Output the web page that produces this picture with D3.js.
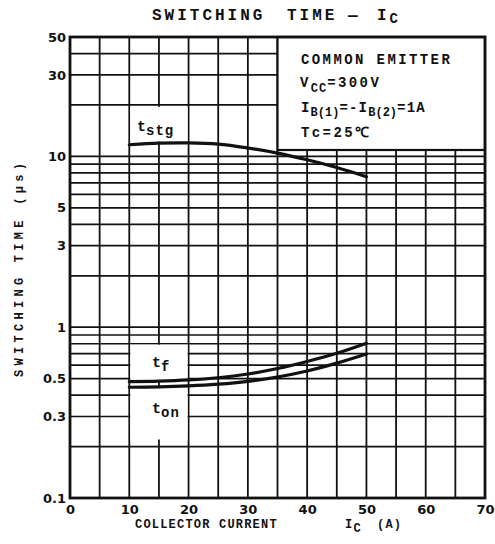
<!DOCTYPE html>
<html>
<head>
<meta charset="utf-8">
<script src="https://cdn.jsdelivr.net/npm/d3@7"></script>
<style>
html,body{margin:0;padding:0;background:#fff;}
svg{display:block;}
.mono{font-family:"Liberation Mono","Courier New",monospace;font-weight:bold;fill:#111;}
.tick{font-family:"DejaVu Sans",sans-serif;font-size:13px;fill:#111;}
</style>
</head>
<body>
<svg id="chart" width="495" height="544"></svg>
<script>
// ---- data ----
const collectorCurrent = [10, 15, 20, 25, 30, 35, 40, 45, 50];
const tStg = [11.7, 11.95, 12.0, 11.8, 11.2, 10.45, 9.55, 8.6, 7.6];
const tF   = [0.480, 0.483, 0.491, 0.506, 0.532, 0.573, 0.630, 0.703, 0.805];
const tOn  = [0.445, 0.447, 0.453, 0.464, 0.482, 0.511, 0.554, 0.616, 0.697];
const xTickValues = [0, 10, 20, 30, 40, 50, 60, 70];
const xGridValues = [5, 10, 15, 20, 25, 30, 35, 40, 45, 50, 55, 60, 65];
const yTickValues = [50, 30, 10, 5, 3, 1, 0.5, 0.3, 0.1];
const yTickLabels = ["50", "30", "10", "5", "3", "1", "0.5", "0.3", "0.1"];
const yGridValues = [0.2,0.3,0.4,0.5,0.6,0.7,0.8,0.9,1,2,3,4,5,6,7,8,9,10,20,30,40];

const svg = d3.select("#chart");
const x = d3.scaleLinear().domain([0, 70]).range([70, 485]);
const y = d3.scaleLog().domain([0.1, 50]).range([498, 37]);

const ink = "#111";

// grid
const grid = svg.append("g");
grid.selectAll("line.v").data(xGridValues).join("line")
  .attr("x1", d => x(d)).attr("x2", d => x(d))
  .attr("y1", y(50)).attr("y2", y(0.1))
  .attr("stroke", ink).attr("stroke-width", 1.8);
grid.selectAll("line.h").data(yGridValues).join("line")
  .attr("x1", x(0)).attr("x2", x(70))
  .attr("y1", d => y(d)).attr("y2", d => y(d))
  .attr("stroke", ink).attr("stroke-width", 1.7);

// white label boxes hiding the grid
function whiteBox(x0, x1, v0, v1) {
  svg.append("rect")
    .attr("x", x(x0) + 1).attr("width", x(x1) - x(x0) - 2)
    .attr("y", y(v0)).attr("height", y(v1) - y(v0))
    .attr("fill", "#fff");
}
whiteBox(10, 20, 19.5, 12.2);
whiteBox(10, 20, 0.79, 0.49);
whiteBox(10, 20, 0.44, 0.22);

// condition box
svg.append("rect")
  .attr("x", x(35)).attr("y", y(50))
  .attr("width", x(70) - x(35)).attr("height", y(10.9) - y(50))
  .attr("fill", "#fff").attr("stroke", ink).attr("stroke-width", 2.2);

// curves
const line = d3.line().curve(d3.curveCatmullRom.alpha(0.5));
[tStg, tF, tOn].forEach(series => {
  svg.append("path")
    .attr("d", line(collectorCurrent.map((c, i) => [x(c), y(series[i])])))
    .attr("fill", "none").attr("stroke", ink).attr("stroke-width", 3.2)
    .attr("stroke-linecap", "round");
});

// frame
svg.append("rect")
  .attr("x", x(0)).attr("y", y(50))
  .attr("width", x(70) - x(0)).attr("height", y(0.1) - y(50))
  .attr("fill", "none").attr("stroke", ink).attr("stroke-width", 2.8);

// axes (labels only; grid serves as tick lines)
const xAxis = d3.axisBottom(x).tickValues(xTickValues).tickSize(0).tickPadding(7).tickFormat(d3.format("d"));
const gx = svg.append("g").attr("transform", `translate(0,${y(0.1)})`).call(xAxis);
gx.select(".domain").remove();
gx.selectAll("text").attr("class", "tick").attr("font-weight", "bold").attr("fill", ink).attr("dy", "0.71em");

const yAxis = d3.axisLeft(y).tickValues(yTickValues).tickSize(0).tickPadding(4)
  .tickFormat((d, i) => yTickLabels[i]);
const gy = svg.append("g").attr("transform", `translate(${x(0)},0)`).call(yAxis);
gy.select(".domain").remove();
gy.selectAll("text").attr("class", "tick").attr("font-weight", "bold").attr("fill", ink);

// title
const title = svg.append("text").attr("class", "mono").attr("y", 20).attr("font-size", 16).attr("letter-spacing", 3);
title.append("tspan").attr("x", 152).text("SWITCHING");
title.append("tspan").attr("x", 287).text("TIME");
title.append("tspan").attr("x", 348).text("\u2014");
title.append("tspan").attr("x", 377).text("I");
title.append("tspan").attr("font-size", 14).attr("dy", 3).attr("letter-spacing", 0).text("C");

// x label
const xl = svg.append("text").attr("class", "mono").attr("y", 528).attr("font-size", 12).attr("letter-spacing", 1.2);
xl.append("tspan").attr("x", 135).text("COLLECTOR CURRENT");
xl.append("tspan").attr("x", 345).text("I");
xl.append("tspan").attr("font-size", 12).attr("dy", 4).text("C");
xl.append("tspan").attr("x", 377).attr("dy", -4).text("(A)");

// y label
svg.append("text").attr("class", "mono")
  .attr("transform", "translate(23,270) rotate(-90)")
  .attr("text-anchor", "middle").attr("font-size", 12)
  .attr("textLength", 214).attr("lengthAdjust", "spacing")
  .text("SWITCHING TIME  (\u03bcs)");

// condition text
const cond = svg.append("g").attr("class", "mono").attr("font-size", 14).attr("letter-spacing", 2.4);
cond.append("text").attr("x", 301).attr("y", 64).text("COMMON EMITTER");
const v = cond.append("text").attr("x", 300).attr("y", 87);
v.append("tspan").text("V");
v.append("tspan").attr("font-size", 12).attr("dy", 5).attr("letter-spacing", 1).text("CC");
v.append("tspan").attr("dy", -5).text("=300V");
const ib = cond.append("text").attr("x", 301).attr("y", 112).attr("letter-spacing", 1.2);
ib.append("tspan").text("I");
ib.append("tspan").attr("font-size", 12).attr("dy", 4).attr("letter-spacing", 0).text("B(1)");
ib.append("tspan").attr("dy", -4).text("=-I");
ib.append("tspan").attr("font-size", 12).attr("dy", 4).attr("letter-spacing", 0).text("B(2)");
ib.append("tspan").attr("dy", -4).text("=1A");
cond.append("text").attr("x", 301).attr("y", 137).text("Tc=25\u2103");

// curve labels
function curveLabel(px, py, sub) {
  const t = svg.append("text").attr("class", "mono").attr("x", px).attr("y", py).attr("font-size", 15);
  t.append("tspan").text("t");
  t.append("tspan").attr("font-size", 14).attr("dy", 4).attr("letter-spacing", 1).text(sub);
}
curveLabel(137, 131, "stg");
curveLabel(152, 367, "f");
curveLabel(152, 413, "on");
</script>
</body>
</html>
